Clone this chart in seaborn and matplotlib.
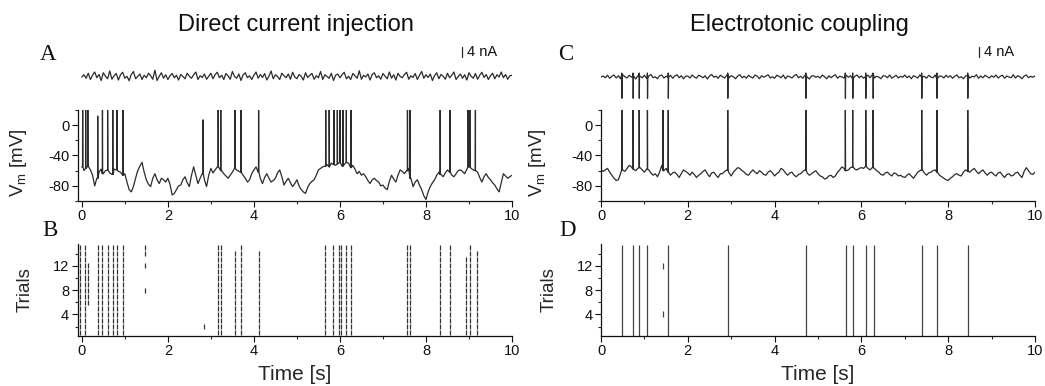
import numpy as np
import pandas as pd
import matplotlib
matplotlib.use("Agg")
import matplotlib.pyplot as plt
import seaborn as sns
from matplotlib.ticker import MultipleLocator

sns.set_theme(style="ticks")
plt.rcParams["font.family"] = ["Liberation Sans", "DejaVu Sans"]
plt.rcParams["axes.unicode_minus"] = False

# ---------------- data ----------------
# membrane potential baseline (mV), sampled every 0.05 s from 0 to 10 s
t_vm = np.round(np.arange(201) * 0.05, 3)
vm_left = [-55, -60, -57, -54, -59, -66, -80, -70, -62, -58,
           -64, -60, -59, -63, -65, -58, -59, -61, -62, -66,
           -64, -75, -85, -88, -81, -70, -60, -54, -49, -62,
           -72, -78, -81, -70, -64, -72, -77, -70, -72, -75,
           -70, -78, -92, -90, -85, -80, -79, -72, -68, -76,
           -81, -66, -55, -66, -77, -70, -64, -72, -81, -66,
           -57, -63, -59, -55, -57, -60, -64, -67, -70, -66,
           -62, -57, -59, -61, -62, -66, -70, -75, -72, -64,
           -59, -55, -62, -70, -77, -69, -64, -70, -75, -73,
           -70, -63, -59, -68, -79, -74, -70, -76, -81, -77,
           -72, -80, -85, -88, -90, -82, -77, -74, -72, -66,
           -59, -57, -55, -54, -52, -55, -50, -52, -53, -51,
           -49, -54, -52, -49, -50, -56, -53, -58, -64, -61,
           -66, -64, -68, -73, -77, -72, -70, -73, -75, -80,
           -79, -83, -85, -74, -66, -71, -75, -66, -59, -61,
           -64, -60, -57, -70, -81, -75, -72, -79, -85, -93,
           -98, -88, -81, -76, -72, -66, -62, -65, -68, -63,
           -59, -62, -66, -68, -64, -60, -59, -61, -64, -58,
           -55, -57, -59, -60, -62, -69, -75, -68, -64, -69,
           -72, -76, -79, -84, -88, -76, -64, -67, -70, -68,
           -66]
vm_right = [-59, -61, -59, -57, -62, -66, -70, -73, -72, -64,
            -59, -61, -57, -53, -55, -58, -60, -57, -56, -59,
            -62, -58, -59, -63, -66, -64, -68, -62, -53, -60,
            -57, -62, -66, -63, -62, -65, -69, -64, -59, -61,
            -63, -66, -62, -65, -69, -66, -64, -61, -59, -64,
            -68, -63, -62, -66, -69, -64, -64, -61, -59, -63,
            -67, -62, -59, -56, -57, -60, -62, -65, -66, -62,
            -59, -62, -64, -60, -62, -65, -66, -62, -60, -63,
            -67, -64, -62, -57, -59, -63, -66, -63, -62, -66,
            -68, -65, -64, -61, -59, -63, -66, -64, -62, -60,
            -64, -67, -68, -71, -70, -67, -66, -69, -67, -62,
            -59, -55, -57, -60, -59, -56, -55, -58, -59, -57,
            -56, -57, -54, -57, -59, -56, -57, -60, -62, -65,
            -66, -63, -62, -65, -67, -63, -64, -67, -66, -68,
            -69, -66, -64, -67, -70, -66, -62, -60, -59, -63,
            -66, -63, -62, -60, -59, -62, -66, -68, -70, -72,
            -73, -70, -68, -65, -64, -66, -67, -62, -59, -61,
            -62, -59, -57, -61, -64, -61, -59, -63, -66, -63,
            -62, -65, -67, -63, -62, -66, -69, -65, -64, -67,
            -66, -63, -62, -66, -69, -61, -56, -60, -64, -65,
            -62]

# spikes in the displayed voltage traces (s) and their peak (mV)
spk_left = [0.02, 0.09, 0.14, 0.37, 0.48, 0.60, 0.72, 0.82, 0.96,
            2.82, 3.17, 3.23, 3.56, 3.70, 4.11,
            5.67, 5.75, 5.86, 5.94, 6.00, 6.07, 6.15, 6.26,
            7.57, 7.63, 8.33, 8.56, 8.98, 9.02, 9.15]
peak_left = [30, 30, 30, 12, 30, 30, 30, 30, 30,
             7, 30, 30, 30, 30, 30,
             30, 30, 30, 30, 30, 30, 30, 30,
             30, 30, 30, 30, 30, 30, 30]
spk_right = [0.48, 0.74, 0.88, 1.07, 1.43, 1.55, 2.92, 4.72,
             5.63, 5.80, 6.10, 6.27, 7.39, 7.74, 8.45]
peak_right = [30] * 15

# injected / coupling current (nA), sampled every 0.05 s
t_cur = np.round(np.arange(201) * 0.05, 3)
cur_left = [0.0, 0.9, -0.5, 1.5, -1.0, 0.7, 2.0, -0.3, 1.0, -1.4, 1.7, 0.3, -0.7, 2.4, -0.9, 0.5, 1.4, -1.2, 0.9, 1.9,
            -0.5, 0.3, -1.5, 1.0, 2.2, -0.7, 0.2, 1.2, -1.0, 0.7, -0.3, 1.5, 0.5, -0.9, 2.7, -1.4, 0.3, 1.7, -0.5, 0.9,
            -1.0, 0.5, 1.4, -0.3, 0.7, -1.2, 1.0, 0.2, -0.7, 1.5, 0.3, -0.5, 0.9, 2.0, -1.0, 0.5, -0.2, 1.2, -0.9, 0.3,
            1.5, -0.7, 1.0, 1.9, -0.3, 0.7, -1.0, 1.4, 0.5, -0.9, 2.2, 0.2, -0.5, 1.2, -1.4, 0.9, 1.7, -0.3, 0.5, -1.0,
            0.7, 2.0, -0.5, 1.0, -0.2, 1.4, -1.2, 0.3, 2.4, -0.7, 0.9, 0.2, -1.0, 1.5, 0.5, -0.3, 1.2, -0.9, 1.9, 0.0,
            -0.7, 1.0, 0.3, -1.2, 1.7, -0.2, 0.7, 1.4, -0.9, 0.5, -0.3, 2.2, -1.0, 0.9, 0.2, -0.5, 1.5, -1.4, 0.7, 1.2,
            -0.3, 0.9, 1.9, -0.7, 0.3, -1.0, 1.4, 0.5, -0.5, 2.5, -0.9, 0.7, 0.0, 1.2, -1.2, 1.0, 1.7, -0.3, 0.5, -0.9,
            1.4, 0.3, -0.7, 2.0, -0.5, 0.9, -1.2, 1.5, 0.2, -0.3, 1.0, 1.9, -0.9, 0.5, -0.2, 1.4, -1.0, 0.7, 2.2, -0.5,
            0.9, -0.2, 1.2, -1.4, 0.5, 1.7, -0.7, 1.0, 0.3, -0.9, 1.5, -0.3, 0.7, 2.0, -1.0, 0.2, 1.2, -0.5, 0.9, -1.2,
            1.7, 0.3, -0.5, 1.4, -0.9, 0.7, 1.9, -0.2, 1.0, -1.0, 0.5, 1.5, -0.7, 0.9, 0.0, 2.0, -0.3, 1.0, -0.9, 0.5, 0.7]
cur_right = [0.0, 0.4, -0.3, 0.7, -0.5, 0.3, 0.8, -0.4, 0.5, -0.7, 0.9, 0.1, -0.4, 0.7, -0.1, 0.4, -0.8, 0.5, 0.3, -0.3,
             0.7, -0.5, 0.4, 1.0, -0.3, 0.1, -0.7, 0.5, 0.8, -0.4, 0.3, -0.1, 0.7, -0.5, 0.4, 0.9, -0.3, 0.5, -0.7, 0.3,
             0.4, -0.4, 0.8, 0.0, -0.5, 0.7, 0.3, -0.3, 0.5, -0.8, 0.4, 1.0, -0.1, 0.3, -0.5, 0.7, 0.1, -0.4, 0.8, -0.3,
             0.5, 0.1, -0.7, 0.4, 0.9, -0.3, 0.3, -0.5, 0.7, 0.0, -0.4, 0.8, 0.3, -0.7, 0.5, -0.1, 0.4, 0.9, -0.4, 0.1,
             -0.5, 0.7, 0.3, -0.3, 0.8, -0.7, 0.4, 0.1, -0.4, 0.5, 1.0, -0.3, 0.3, -0.5, 0.7, 0.0, -0.8, 0.4, 0.5, -0.1,
             0.3, -0.4, 0.8, 0.1, -0.7, 0.5, -0.3, 0.4, 0.9, -0.5, 0.3, 0.0, -0.4, 0.7, -0.1, 0.5, -0.7, 0.3, 0.8, -0.3,
             0.4, -0.5, 0.1, 0.7, -0.3, 0.9, -0.4, 0.3, 0.0, -0.7, 0.5, 0.4, -0.3, 0.8, -0.5, 0.1, 0.7, -0.4, 0.3, -0.1,
             0.8, -0.3, 0.4, -0.7, 0.5, 0.1, -0.4, 0.9, -0.1, 0.3, -0.5, 0.7, 0.0, -0.3, 0.8, -0.7, 0.4, 0.3, -0.4, 0.7,
             -0.1, 0.5, -0.5, 0.3, 0.8, -0.3, 0.1, -0.7, 0.4, 0.7, -0.4, 0.3, 0.0, 0.9, -0.5, 0.4, -0.3, 0.7, 0.1, -0.4,
             0.5, -0.1, 0.8, -0.4, 0.3, 0.7, -0.5, 0.4, 0.0, -0.3, 0.9, -0.4, 0.5, 0.1, -0.7, 0.4, 0.8, -0.3, 0.3, -0.1, 0.4]
# coupling-current deflections (presynaptic spikes) and their depth (nA)
coup_t = [0.48, 0.74, 0.88, 1.07, 1.55, 2.92, 4.72,
          5.63, 5.80, 6.10, 6.27, 7.39, 7.74, 8.45]
coup_depth = [-8.5] * 14

# raster: spike columns (time s, first trial, last trial)
ras_left_t = [-0.04, 0.08, 0.14, 0.37, 0.48, 0.60, 0.72, 0.82, 0.96,
              1.46, 1.46, 1.46, 2.83,
              3.17, 3.23, 3.56, 3.70, 4.11,
              5.66, 5.84, 5.97, 6.02, 6.14, 6.26,
              7.57, 7.63, 8.33, 8.56, 8.92, 9.02, 9.18]
ras_left_lo = [1, 1, 6, 1, 1, 1, 1, 1, 1,
               8, 12, 14, 2,
               1, 1, 1, 1, 1,
               1, 1, 1, 1, 1, 1,
               1, 1, 1, 1, 1, 1, 1]
ras_left_hi = [15, 15, 12, 15, 15, 15, 15, 15, 15,
               8, 12, 15, 2,
               15, 15, 14, 15, 14,
               15, 15, 15, 15, 15, 15,
               15, 15, 15, 15, 13, 15, 14]
ras_right_t = [0.48, 0.74, 0.88, 1.07, 1.44, 1.44, 1.55, 2.93, 4.73,
               5.64, 5.81, 6.11, 6.28, 7.40, 7.75, 8.46]
ras_right_lo = [1, 1, 1, 1, 4, 12, 1, 1, 1, 1, 1, 1, 1, 1, 1, 1]
ras_right_hi = [15, 15, 15, 15, 4, 12, 15, 15, 15, 15, 15, 15, 15, 15, 15, 15]

scale_nA = 4
titles = ["Direct current injection", "Electrotonic coupling"]
letters = [("A", "B"), ("C", "D")]

# ---------------- helpers ----------------
def nearest(tgrid, vals, s):
    return vals[int(np.argmin(np.abs(np.asarray(tgrid) - s)))]

def vm_trace(tgrid, vals, spikes, peaks):
    rows = list(zip(tgrid, vals))
    for s, p in zip(spikes, peaks):
        b = nearest(tgrid, vals, s)
        rows += [(s - 0.003, b), (s, p), (s + 0.005, b)]
    return pd.DataFrame(rows, columns=["t", "v"]).sort_values("t")

def cur_trace(tgrid, vals, defl_t, defl_d):
    rows = list(zip(tgrid, vals))
    for s, d in zip(defl_t, defl_d):
        b = nearest(tgrid, vals, s)
        rows += [(s - 0.004, b), (s - 0.001, 1.6), (s + 0.002, d), (s + 0.007, b)]
    return pd.DataFrame(rows, columns=["t", "i"]).sort_values("t")

W, H = 1045, 386
fig = plt.figure(figsize=(W / 100, H / 100), dpi=100)

def px_axes(x0, y0, x1, y1):
    return fig.add_axes([x0 / W, 1 - y1 / H, (x1 - x0) / W, (y1 - y0) / H])

line_col = "#2b2b2b"
cols = [
    dict(x0=77.5, x1=512, xlim=(-0.1, 10), vm=vm_left, spk=spk_left, pk=peak_left,
         cur=cur_left, ct=[], cd=[], rt=ras_left_t, rlo=ras_left_lo, rhi=ras_left_hi,
         dashed=True, bar_t=8.83, ylx=-0.112, trx=-0.102),
    dict(x0=601, x1=1035, xlim=(0, 10), vm=vm_right, spk=spk_right, pk=peak_right,
         cur=cur_right, ct=coup_t, cd=coup_depth, rt=ras_right_t, rlo=ras_right_lo, rhi=ras_right_hi,
         dashed=False, bar_t=8.71, ylx=-0.122, trx=-0.099),
]

for k, c in enumerate(cols):
    # current trace
    axc = px_axes(c["x0"], 30, c["x1"], 105)
    dfc = cur_trace(t_cur, c["cur"], c["ct"], c["cd"])
    sns.lineplot(data=dfc, x="t", y="i", ax=axc, sort=False, estimator=None,
                 color=line_col, lw=0.9)
    axc.set_xlim(*c["xlim"])
    axc.set_ylim(-11.2, 18.8)
    axc.axis("off")
    axc.plot([c["bar_t"], c["bar_t"]], [8, 8 + scale_nA], color=line_col, lw=0.9)
    axc.text(c["bar_t"] + 0.12, 8 + scale_nA / 2, f"{scale_nA} nA", fontsize=10.5,
             va="center", ha="left", color="#111")

    # voltage trace
    axv = px_axes(c["x0"], 110, c["x1"], 201)
    dfv = vm_trace(t_vm, c["vm"], c["spk"], c["pk"])
    sns.lineplot(data=dfv, x="t", y="v", ax=axv, sort=False, estimator=None,
                 color=line_col, lw=0.9)
    axv.set_xlim(*c["xlim"])
    axv.set_ylim(-100, 20)
    axv.set_yticks([0, -40, -80])
    axv.yaxis.set_minor_locator(MultipleLocator(20))
    axv.set_xticks([0, 2, 4, 6, 8, 10])
    axv.xaxis.set_minor_locator(MultipleLocator(1))
    axv.set_xlabel("")
    axv.set_ylabel(r"V$_\mathregular{m}$ [mV]", fontsize=13.5)
    axv.yaxis.set_label_coords(c["ylx"], 0.42)

    # raster
    axr = px_axes(c["x0"], 244, c["x1"], 336)
    for t, lo, hi in zip(c["rt"], c["rlo"], c["rhi"]):
        if c["dashed"]:
            for tr in range(lo, hi + 1):
                axr.vlines(t, tr - 0.42, tr + 0.42, color="#333", lw=0.9)
        else:
            axr.vlines(t, lo - 0.5, hi + 0.5, color="#444", lw=0.9)
    axr.set_xlim(*c["xlim"])
    axr.set_ylim(0.45, 15.6)
    axr.set_yticks([4, 8, 12])
    axr.yaxis.set_minor_locator(MultipleLocator(2))
    axr.set_xticks([0, 2, 4, 6, 8, 10])
    axr.xaxis.set_minor_locator(MultipleLocator(1))
    axr.set_ylabel("Trials", fontsize=13.5)
    axr.yaxis.set_label_coords(c["trx"], 0.5)
    axr.set_xlabel("Time [s]", fontsize=15)
    axr.xaxis.set_label_coords(0.5, -0.31)

    for ax in (axv, axr):
        sns.despine(ax=ax)
        ax.tick_params(axis="both", which="major", length=4, width=0.8,
                       labelsize=10.5, pad=2, colors="#111")
        ax.tick_params(axis="both", which="minor", length=2.5, width=0.8)
        for sp in ("left", "bottom"):
            ax.spines[sp].set_linewidth(0.9)
            ax.spines[sp].set_color("#111")

    # titles and panel letters
    fig.text([296, 799][k] / W, 1 - 25 / H, titles[k], fontsize=17,
             ha="center", va="center", color="#111")
    lx = [48, 566][k]
    fig.text(lx / W, 1 - 55 / H, letters[k][0], fontsize=16.5, family="Liberation Serif",
             ha="center", va="center", color="#111")
    fig.text((lx + 2) / W, 1 - 230 / H, letters[k][1], fontsize=16.5, family="Liberation Serif",
             ha="center", va="center", color="#111")

fig.savefig("out.png", dpi=100, facecolor="white")
